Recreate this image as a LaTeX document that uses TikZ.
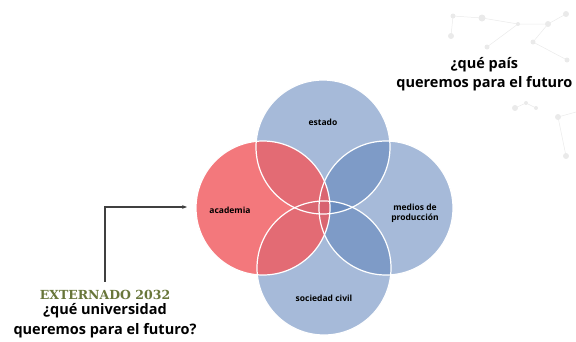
\documentclass[tikz,border=0pt]{standalone}
\usepackage{fontspec}
\usepackage{tikz}
\usetikzlibrary{arrows.meta,positioning}
\setmainfont{Open Sans}
\newfontfamily\slabfont{DejaVu Serif}[BoldFont={DejaVu Serif Bold}]
\definecolor{azulvenn}{RGB}{93,130,185}
\definecolor{rojovenn}{RGB}{240,90,95}
\definecolor{verdeext}{RGB}{104,118,58}
\definecolor{grisred}{RGB}{234,234,234}
\newcommand{\vennSize}[0]{134pt}

\begin{document}
\begin{tikzpicture}[x=1pt, y=-1pt]
  \tikzset{venn/.style={circle, minimum size=\vennSize, inner sep=0pt, fill=azulvenn, fill opacity=0.55},
           borde/.style={circle, minimum size=\vennSize, inner sep=0pt, draw=white, line width=1.2pt},
           tag/.style={font=\bfseries\fontsize{8.5}{10}\selectfont, align=center, text=black},
           pregunta/.style={font=\bfseries\fontsize{14.5}{19.5}\selectfont, align=center, text=black}}
  \useasboundingbox (0,0) rectangle (576,341);
  % red de fondo
  \draw[grisred, line width=0.5pt] (453,16) -- (482,18) -- (518,24) -- (548,24) -- (566,14)
    (451,36) -- (453,16) (487,47) -- (518,24) (533,42) -- (548,24) (533,42) -- (567,60)
    (515,108) -- (526,103) -- (536,108) (558,117) -- (576,112) (558,117) -- (566,156);
  \foreach \x/\y/\r in {453/16/2.5, 482/18/3.5, 451/36/3, 518/24/2, 548/24/3, 487/47/2.5,
                        533/42/2.5, 567/60/2.5, 515/108/3, 526/103/2, 536/108/2, 558/117/3,
                        566/156/3, 566/14/3}
    \fill[grisred] (\x,\y) circle (\r);
  % circulos
  \node[venn] (estado) at (323,147) {};
  \node[venn] (medios) at (386,208) {};
  \node[venn] (sociedad) at (324,268) {};
  \node[venn, fill=rojovenn, fill opacity=0.82] (academia) at (263,208) {};
  \foreach \n in {estado, medios, sociedad, academia}
    \node[borde] at (\n) {};
  \node[tag] (estadoT) at ([yshift=25pt]estado.center) {estado};
  \node[tag] (academiaT) at ([xshift=-33pt,yshift=-2pt]academia.center) {academia};
  \node[tag] (mediosT) at ([xshift=29pt,yshift=-5pt]medios.center) {medios de\\producción};
  \node[tag] (sociedadT) at ([yshift=-30pt]sociedad.center) {sociedad civil};
  % textos
  \node[pregunta, anchor=east] (pais) at (576,74) {¿qué país\\queremos para el futuro};
  \node[font=\slabfont\bfseries\fontsize{12.5}{14}\selectfont, text=verdeext] (externado) at (105,295) {EXTERNADO 2032};
  \node[pregunta, below=-3pt of externado] (universidad) {¿qué universidad\\queremos para el futuro?};
  \coordinate (flecha) at (187,207);
  \draw[-{Stealth[length=5pt]}, line width=1.1pt, black!75] ([yshift=5pt]externado.north) |- (flecha);
\end{tikzpicture}
\end{document}
